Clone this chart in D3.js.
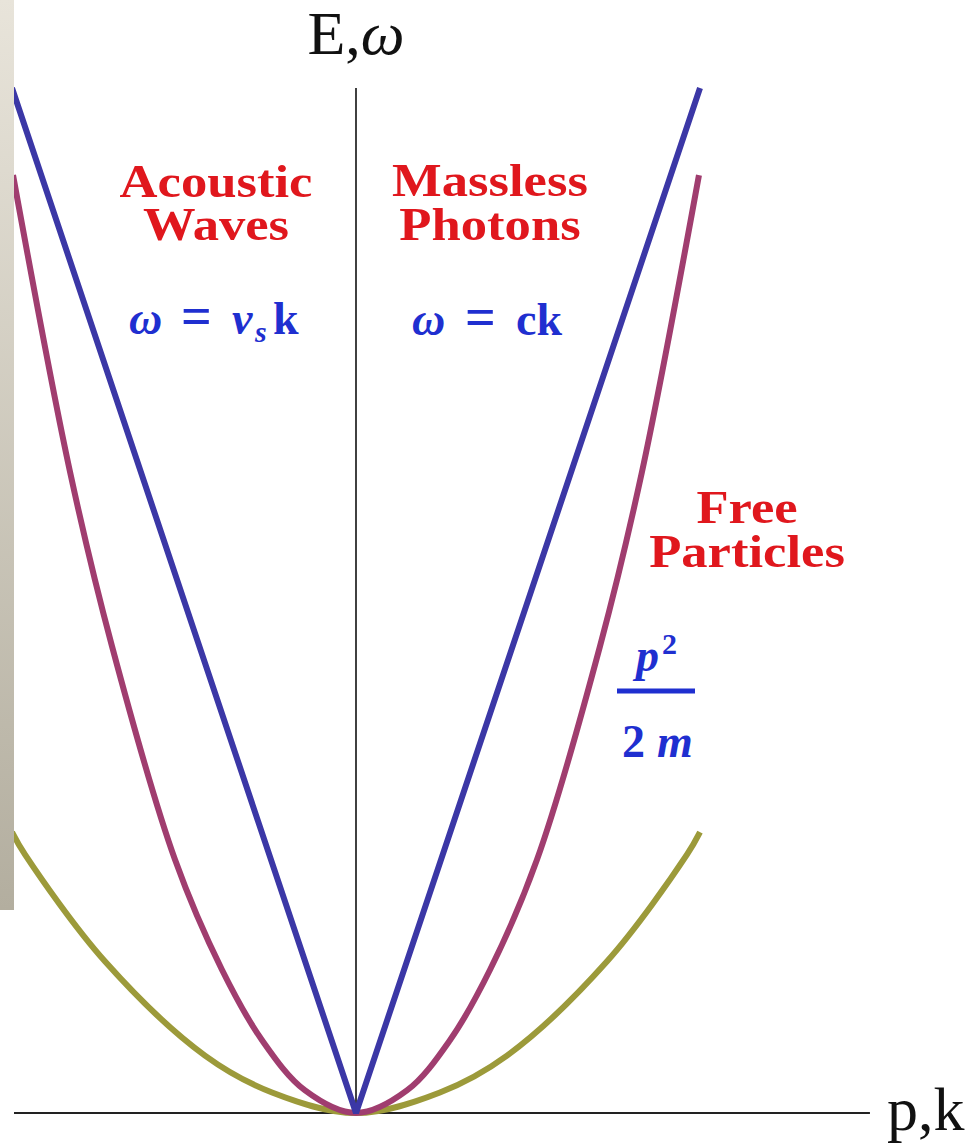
<!DOCTYPE html>
<html>
<head>
<meta charset="utf-8">
<script src="https://cdn.jsdelivr.net/npm/d3@7"></script>
<style>
  html, body { margin: 0; padding: 0; background: #ffffff; }
  svg { display: block; }
  text { font-family: "Liberation Serif", "Times New Roman", serif; }
</style>
</head>
<body>
<svg id="chart" width="974" height="1144"></svg>
<script>
// Dispersion relations E(p) / ω(k); each curve is given for p ≥ 0 and mirrored about p = 0.
const photonP = [0, 1];
const photonE = [0, 1];

const lightP = [0, 0.148, 0.273, 0.390, 0.526, 0.709, 0.831, 0.997];
const lightE = [0, 0.022, 0.071, 0.140, 0.247, 0.455, 0.625, 0.915];

const heavyP = [0, 0.244, 0.439, 0.730, 0.962, 1.0];
const heavyE = [0, 0.020, 0.056, 0.148, 0.252, 0.274];

const seriesColors = ["#3b37a6", "#a03d6f", "#9c9a3a"];

const svg = d3.select("#chart");

const x = d3.scaleLinear().domain([-1, 1]).range([12, 700]);
const y = d3.scaleLinear().domain([0, 1]).range([1113, 88]);

// Side strip with a vertical gradient
const defs = svg.append("defs");
const grad = defs.append("linearGradient").attr("id", "strip")
  .attr("x1", 0).attr("y1", 0).attr("x2", 0).attr("y2", 1);
grad.append("stop").attr("offset", "0%").attr("stop-color", "#e8e4da");
grad.append("stop").attr("offset", "100%").attr("stop-color", "#b3ae9f");

// Axes
svg.append("line")
  .attr("x1", x(0)).attr("x2", x(0))
  .attr("y1", y(0)).attr("y2", y(1))
  .attr("stroke", "#111").attr("stroke-width", 1.6);
svg.append("line")
  .attr("x1", 14).attr("x2", x(1.494))
  .attr("y1", y(0)).attr("y2", y(0))
  .attr("stroke", "#222").attr("stroke-width", 2);

// Mirror the p ≥ 0 samples to build the full symmetric curve
function mirrored(ps, es) {
  const pts = ps.map((p, i) => [p, es[i]]);
  const left = pts.slice(1).reverse().map(([p, e]) => [-p, e]);
  return left.concat(pts);
}

const smooth = d3.line()
  .x(d => x(d[0]))
  .y(d => y(d[1]))
  .curve(d3.curveCatmullRom.alpha(0.5));

const straight = d3.line().x(d => x(d[0])).y(d => y(d[1]));

svg.append("path")
  .attr("d", smooth(mirrored(heavyP, heavyE)))
  .attr("fill", "none").attr("stroke", seriesColors[2]).attr("stroke-width", 6);
svg.append("path")
  .attr("d", smooth(mirrored(lightP, lightE)))
  .attr("fill", "none").attr("stroke", seriesColors[1]).attr("stroke-width", 6);
svg.append("path")
  .attr("d", straight(mirrored(photonP, photonE)))
  .attr("fill", "none").attr("stroke", seriesColors[0]).attr("stroke-width", 6)
  .attr("stroke-linejoin", "bevel");

svg.append("rect").attr("x", 0).attr("y", 0).attr("width", 14).attr("height", 910)
  .attr("fill", "url(#strip)");

// Axis titles
const eLabel = svg.append("text").attr("x", 356).attr("y", 54)
  .attr("text-anchor", "middle").attr("font-size", 62).attr("fill", "#111");
eLabel.append("tspan").text("E,");
eLabel.append("tspan").attr("font-style", "italic").text("ω");

svg.append("text").attr("x", 887).attr("y", 1130)
  .attr("font-size", 62).attr("fill", "#111").text("p,k");

// Curve labels (slightly widened bold serif)
const red = "#e0171d", blue = "#1f2fd0";
function heading(lines, cx, y0, dy) {
  const g = svg.append("g").attr("transform", `translate(${cx},0) scale(1.12,1)`);
  const t = g.append("text").attr("text-anchor", "middle")
    .attr("font-weight", "bold").attr("font-size", 47)
    .attr("fill", red);
  lines.forEach((s, i) => t.append("tspan").attr("x", 0).attr("y", y0 + i * dy).text(s));
}
heading(["Acoustic", "Waves"], 216, 197, 43);
heading(["Massless", "Photons"], 490, 196, 44);
heading(["Free", "Particles"], 747, 523, 44);

// Formula pieces placed one by one
function piece(txt, px, py, opts) {
  const t = svg.append("text").attr("x", px).attr("y", py)
    .attr("font-weight", "bold").attr("font-size", opts.size || 46)
    .attr("fill", blue).text(txt);
  if (opts.italic) t.attr("font-style", "italic");
  return t;
}

// ω = v_s k
piece("ω", 129, 334, { italic: true });
piece("=", 181, 334, { size: 54 });
piece("v", 232, 334, { italic: true });
piece("s", 255, 342, { italic: true, size: 30 });
piece("k", 273, 334, {});

// ω = ck
piece("ω", 412, 335, { italic: true });
piece("=", 465, 335, { size: 54 });
piece("ck", 516, 335, {});

// p² / 2m
piece("p", 636, 671, { italic: true });
piece("2", 662, 654, { size: 30 });
svg.append("line").attr("x1", 617).attr("x2", 695).attr("y1", 691).attr("y2", 691)
  .attr("stroke", blue).attr("stroke-width", 5);
piece("2", 622, 757, {});
piece("m", 657, 757, { italic: true });
</script>
</body>
</html>
